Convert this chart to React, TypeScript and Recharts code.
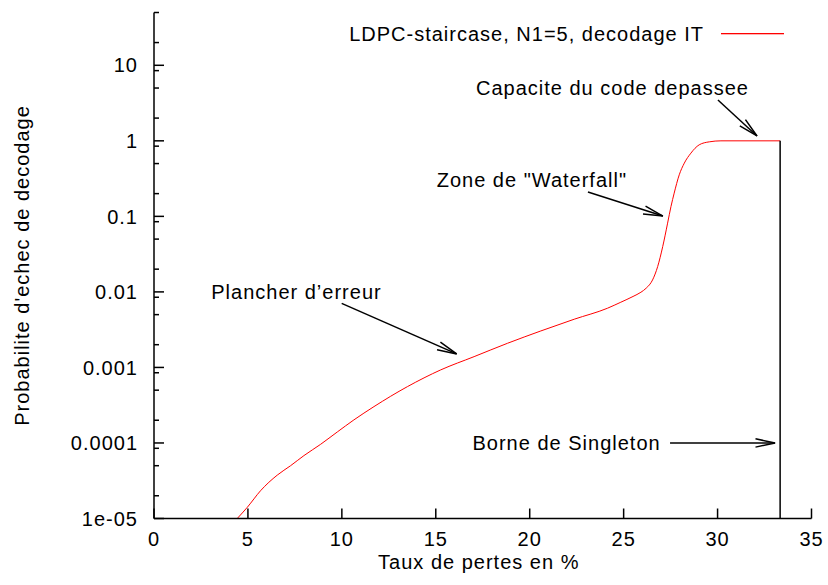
import React from "react";
import {
  LineChart,
  Line,
  XAxis,
  YAxis,
  ReferenceLine,
  ReferenceDot,
} from "recharts";

const FONT = '"Liberation Sans", Arial, Helvetica, sans-serif';
const FS = 20;
const LS = 1.0;

// Taux de pertes (%) -> probabilite d'echec
const lossRates = [
  4.43, 4.97, 5.67, 6.56, 7.27, 7.98, 8.87, 9.76, 10.64, 11.71, 13.49, 15.26,
  17.04, 18.82, 20.59, 22.37, 24.14, 24.85, 25.5, 25.92, 26.2, 26.54, 26.81,
  27.08, 27.34, 27.52, 27.69, 27.96, 28.23, 28.58, 29.02, 29.56, 30.18, 33.33,
];
const failureProb = [
  1e-5, 1.41e-5, 2.33e-5, 3.75e-5, 5.0e-5, 6.8e-5, 9.6e-5, 1.4e-4, 2.02e-4,
  3.03e-4, 5.57e-4, 9.27e-4, 1.39e-3, 2.09e-3, 3.04e-3, 4.35e-3, 6.08e-3,
  7.3e-3, 8.7e-3, 9.9e-3, 1.12e-2, 1.44e-2, 2.16e-2, 3.98e-2, 8.13e-2, 0.135,
  0.203, 0.355, 0.507, 0.687, 0.885, 0.97, 1.0, 1.0,
];

// Borne de Singleton (vertical)
const singletonX = [33.33, 33.33];
const singletonY = [1, 1e-5];

const xTicks = [0, 5, 10, 15, 20, 25, 30, 35];
const xTickLabels = ["0", "5", "10", "15", "20", "25", "30", "35"];
const yMajorTicks = [1e-5, 1e-4, 1e-3, 1e-2, 0.1, 1, 10];
const yTickLabels = ["1e-05", "0.0001", "0.001", "0.01", "0.1", "1", "10"];
const yMinorFactors = [2, 5, 0.85];
const Y_DOMAIN = [1e-5, 50];
const X_DOMAIN = [0, 35];

const legendLabel = "LDPC-staircase, N1=5, decodage IT";

// annotations: text anchor (end), arrow tail, arrow head, in data coords
const annotations = [
  { text: "Capacite du code depassee", tx: 31.67, ty: 4.05, x1: 30.02, y1: 3.47, x2: 32.1, y2: 1.16 },
  { text: 'Zone de "Waterfall"', tx: 25.18, ty: 0.245, x1: 23.1, y1: 0.21, x2: 27.09, y2: 0.101 },
  { text: "Plancher d\u2019erreur", tx: 12.12, ty: 8.05e-3, x1: 9.99, y1: 7.06e-3, x2: 16.11, y2: 1.51e-3 },
  { text: "Borne de Singleton", tx: 26.97, ty: 8.07e-5, x1: 27.47, y1: 1e-4, x2: 33.06, y2: 1e-4 },
];

const curveData = lossRates.map((x, i) => ({ x, y: failureProb[i] }));
const singletonData = singletonX.map((x, i) => ({ x, y: singletonY[i] }));

const yMinorTicks: number[] = [];
yMajorTicks.forEach((m) => {
  yMinorFactors.forEach((f) => {
    const v = m * f;
    if (v >= Y_DOMAIN[0] && v <= Y_DOMAIN[1]) yMinorTicks.push(v);
  });
});
const yAllTicks = [...yMajorTicks, ...yMinorTicks];

function majorIndex(v: number) {
  return yMajorTicks.findIndex((m) => Math.abs(v / m - 1) < 1e-6);
}

const textStyle = { fontFamily: FONT, fontSize: FS, letterSpacing: LS, fill: "#000" };

function LeftTick({ x, y, payload }: any) {
  const i = majorIndex(payload.value);
  return (
    <g>
      <line x1={x} y1={y} x2={x + (i >= 0 ? 10 : 5)} y2={y} stroke="#000" strokeWidth={1.5} />
      {i >= 0 ? (
        <text x={x - 16} y={y} dy="0.36em" textAnchor="end" style={textStyle}>
          {yTickLabels[i]}
        </text>
      ) : null}
    </g>
  );
}

function RightTick({ x, y, payload }: any) {
  const i = majorIndex(payload.value);
  return <line x1={x} y1={y} x2={x - (i >= 0 ? 10 : 5)} y2={y} stroke="#000" strokeWidth={1.5} />;
}

function BottomTick({ x, y, payload }: any) {
  const i = xTicks.indexOf(payload.value);
  return (
    <g>
      <line x1={x} y1={y} x2={x} y2={y - 10} stroke="#000" strokeWidth={1.5} />
      <text x={x} y={y + 27.5} textAnchor="middle" style={textStyle}>
        {xTickLabels[i]}
      </text>
    </g>
  );
}

function TopTick({ x, y }: any) {
  return <line x1={x} y1={y} x2={x} y2={y + 10} stroke="#000" strokeWidth={1.5} />;
}

function Arrow({ x1, y1, x2, y2 }: any) {
  const ang = Math.atan2(y2 - y1, x2 - x1);
  const len = 20;
  const spread = (12 * Math.PI) / 180;
  const b1x = x2 - len * Math.cos(ang - spread);
  const b1y = y2 - len * Math.sin(ang - spread);
  const b2x = x2 - len * Math.cos(ang + spread);
  const b2y = y2 - len * Math.sin(ang + spread);
  return (
    <g stroke="#000" strokeWidth={1.5} fill="none">
      <line x1={x1} y1={y1} x2={x2} y2={y2} />
      <polyline points={`${b1x},${b1y} ${x2},${y2} ${b2x},${b2y}`} />
    </g>
  );
}

export default function App() {
  return (
    <div style={{ position: "absolute", left: 0, top: 0, width: 828, height: 585, background: "#fff" }}>
      <LineChart
        width={828}
        height={585}
        margin={{ top: 12.5, right: 16.5, bottom: 0, left: 0 }}
        style={{ fontFamily: FONT }}
      >
        <XAxis
          xAxisId="b"
          type="number"
          dataKey="x"
          domain={X_DOMAIN}
          ticks={xTicks}
          allowDataOverflow
          height={66.5}
          tickSize={0}
          tickMargin={0}
          tickLine={false}
          axisLine={{ stroke: "#000", strokeWidth: 1.5 }}
          tick={<BottomTick />}
          interval={0}
          label={{
            content: ({ viewBox }: any) => (
              <text
                x={viewBox.x + viewBox.width / 2 - 4}
                y={569}
                textAnchor="middle"
                style={textStyle}
              >
                Taux de pertes en %
              </text>
            ),
          }}
        />
        <XAxis
          xAxisId="t"
          orientation="top"
          type="number"
          domain={X_DOMAIN}
          ticks={xTicks}
          allowDataOverflow
          height={0}
          tickSize={0}
          tickMargin={0}
          tickLine={false}
          axisLine={{ stroke: "#000", strokeWidth: 1.5 }}
          tick={<TopTick />}
          interval={0}
        />
        <YAxis
          yAxisId="l"
          type="number"
          scale="log"
          domain={Y_DOMAIN}
          ticks={yAllTicks}
          allowDataOverflow
          width={154}
          tickSize={0}
          tickMargin={0}
          tickLine={false}
          axisLine={{ stroke: "#000", strokeWidth: 1.5 }}
          tick={<LeftTick />}
          interval={0}
          label={{
            content: ({ viewBox }: any) => {
              const cx = 29;
              const cy = viewBox.y + viewBox.height / 2;
              return (
                <text
                  x={cx}
                  y={cy}
                  textAnchor="middle"
                  transform={`rotate(-90, ${cx}, ${cy})`}
                  style={textStyle}
                >
                  Probabilite d'echec de decodage
                </text>
              );
            },
          }}
        />
        <YAxis
          yAxisId="r"
          orientation="right"
          type="number"
          scale="log"
          domain={Y_DOMAIN}
          ticks={yAllTicks}
          allowDataOverflow
          width={0}
          tickSize={0}
          tickMargin={0}
          tickLine={false}
          axisLine={{ stroke: "#000", strokeWidth: 1.5 }}
          tick={<RightTick />}
          interval={0}
        />

        <Line
          xAxisId="b"
          yAxisId="l"
          data={curveData}
          dataKey="y"
          type="monotone"
          stroke="#ff0000"
          strokeWidth={1}
          dot={false}
          isAnimationActive={false}
        />
        <Line
          xAxisId="b"
          yAxisId="l"
          data={singletonData}
          dataKey="y"
          type="linear"
          stroke="#000"
          strokeWidth={1.5}
          dot={false}
          isAnimationActive={false}
        />

        {annotations.map((a) => (
          <ReferenceLine
            key={`arr-${a.text}`}
            xAxisId="b"
            yAxisId="l"
            segment={[
              { x: a.x1, y: a.y1 },
              { x: a.x2, y: a.y2 },
            ]}
            ifOverflow="visible"
            shape={(p: any) => <Arrow {...p} />}
          />
        ))}
        {annotations.map((a) => (
          <ReferenceDot
            key={`txt-${a.text}`}
            xAxisId="b"
            yAxisId="l"
            x={a.tx}
            y={a.ty}
            r={0}
            ifOverflow="visible"
            shape={(p: any) => (
              <text x={p.cx} y={p.cy} textAnchor="end" style={textStyle}>
                {a.text}
              </text>
            )}
          />
        ))}
      </LineChart>

      <svg
        width={828}
        height={60}
        style={{ position: "absolute", left: 0, top: 0, pointerEvents: "none" }}
      >
        <text x={704} y={41} textAnchor="end" style={textStyle}>
          {legendLabel}
        </text>
        <rect x={721} y={33} width={63} height={1.3} fill="#ff0000" />
      </svg>
    </div>
  );
}
